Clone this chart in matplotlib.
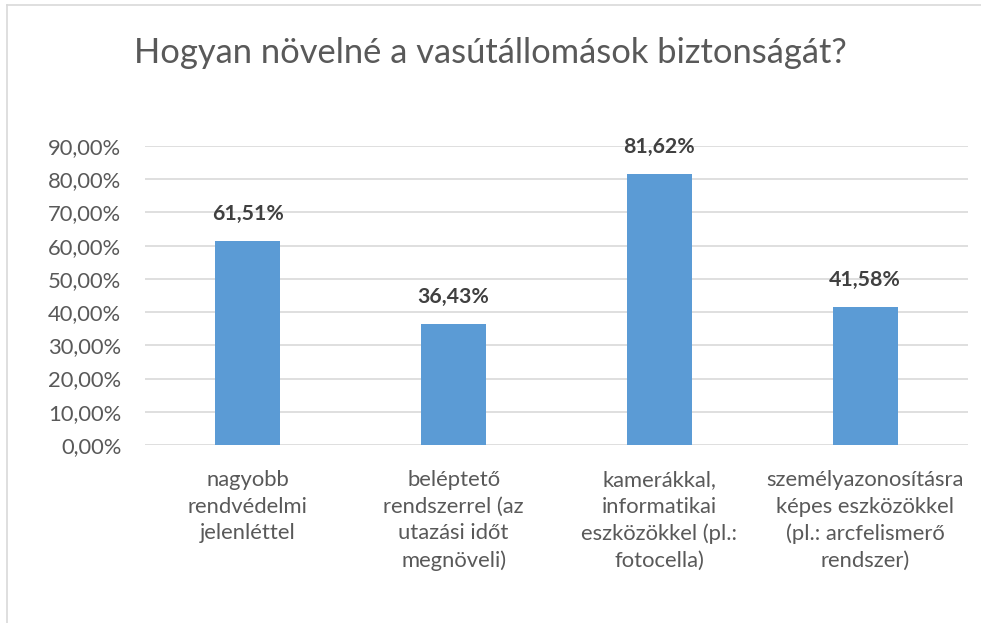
import matplotlib.pyplot as plt
from matplotlib.ticker import FuncFormatter
from matplotlib.lines import Line2D

# adatok
kategoriak = ['nagyobb\nrendvédelmi\njelenléttel',
              'beléptető\nrendszerrel (az\nutazási időt\nmegnöveli)',
              'kamerákkal,\ninformatikai\neszközökkel (pl.:\nfotocella)',
              'személyazonosításra\nképes eszközökkel\n(pl.: arcfelismerő\nrendszer)']
ertekek = [0.6151, 0.3643, 0.8162, 0.4158]
cimkek = ['61,51%', '36,43%', '81,62%', '41,58%']
y_ticks = [0, 0.1, 0.2, 0.3, 0.4, 0.5, 0.6, 0.7, 0.8, 0.9]

plt.rcParams['font.family'] = ['Lato', 'DejaVu Sans']

fig = plt.figure(figsize=(9.81, 6.23), dpi=100)
ax = fig.add_axes([0.1478, 0.2857, 0.8389, 0.48])

x = list(range(len(ertekek)))
ax.bar(x, ertekek, width=0.316, color='#5B9BD5', zorder=3)

for i, v in enumerate(ertekek):
    ax.annotate(cimkek[i], (x[i], v), xytext=(0, 12), textcoords='offset points',
                ha='center', va='bottom', fontsize=15.3, fontweight='bold', color='#404040')

ax.set_xlim(-0.5, 3.5)
ax.set_ylim(0, 0.9)
ax.set_yticks(y_ticks)
ax.yaxis.set_major_formatter(FuncFormatter(lambda v, p: f'{v*100:.2f}%'.replace('.', ',')))
ax.set_xticks(x)
ax.set_xticklabels(kategoriak, linespacing=1.42)
ax.tick_params(axis='both', length=0, labelsize=15.8, colors='#595959')
ax.tick_params(axis='x', pad=18)
ax.tick_params(axis='y', pad=17)
ax.grid(axis='y', color='#D9D9D9', linewidth=1.2, zorder=0)
for s in ax.spines.values():
    s.set_visible(False)

fig.text(0.5, 0.915, 'Hogyan növelné a vasútállomások biztonságát?',
         ha='center', va='center', fontsize=24.8, color='#595959')

# keret
fig.add_artist(Line2D([0.0071, 0.0071], [0, 0.992], transform=fig.transFigure, color='#D9D9D9', linewidth=1.2))
fig.add_artist(Line2D([0.0071, 1], [0.992, 0.992], transform=fig.transFigure, color='#D9D9D9', linewidth=1.2))

fig.savefig('out.png', dpi=100)
